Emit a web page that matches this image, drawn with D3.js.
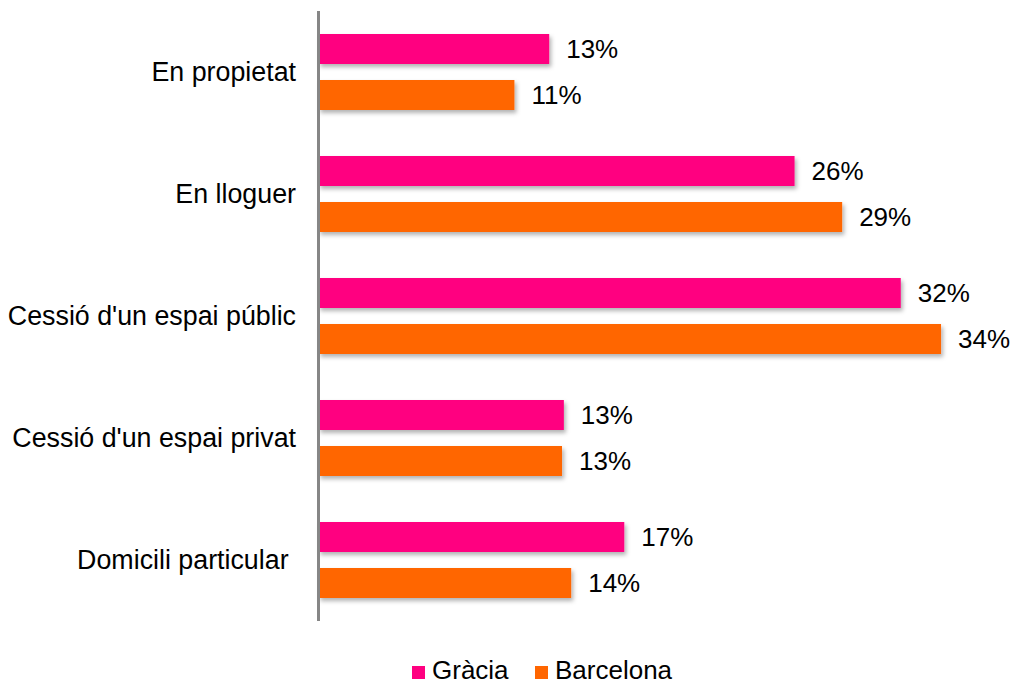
<!DOCTYPE html>
<html>
<head>
<meta charset="utf-8">
<script src="https://cdn.jsdelivr.net/npm/d3@7"></script>
<style>
  html, body { margin: 0; padding: 0; background: #fff; }
  svg { display: block; font-family: Arial, "Liberation Sans", sans-serif; }
</style>
</head>
<body>
<div id="chart"></div>
<script>
// data
const categories = [
  'En propietat',
  'En lloguer',
  "Cessió d'un espai públic",
  "Cessió d'un espai privat",
  'Domicili particular ',
];
const seriesNames = ['Gràcia', 'Barcelona'];
const graciaValues = [12.6, 26.0, 31.8, 13.4, 16.7];
const barcelonaValues = [10.7, 28.6, 34.0, 13.3, 13.8];
const colors = ['#ff0080', '#ff6600'];

const width = 1013;
const height = 684;

const rows = categories.map((c, i) => ({
  category: c,
  values: [
    { series: seriesNames[0], value: graciaValues[i] },
    { series: seriesNames[1], value: barcelonaValues[i] },
  ],
}));

const svg = d3.select('#chart')
  .append('svg')
  .attr('width', width)
  .attr('height', height);

// soft shadow under bars
svg.append('defs')
  .append('filter')
  .attr('id', 'bar-shadow')
  .attr('x', -0.05)
  .attr('y', -0.2)
  .attr('width', 1.1)
  .attr('height', 1.6)
  .append('feDropShadow')
  .attr('dx', 2)
  .attr('dy', 3)
  .attr('stdDeviation', 2)
  .attr('flood-color', '#000')
  .attr('flood-opacity', 0.3);

// scales
const x = d3.scaleLinear()
  .domain([0, 35])
  .range([318.5, 318.5 + 35 * 18.31]);

const y0 = d3.scaleBand()
  .domain(categories)
  .range([11, 621])
  .paddingInner(46 / 122)
  .paddingOuter(23 / 122);

const y1 = d3.scaleBand()
  .domain(seriesNames)
  .range([0, y0.bandwidth()])
  .paddingInner(16 / 46);

const color = d3.scaleOrdinal().domain(seriesNames).range(colors);

// category labels
svg.append('g')
  .selectAll('text')
  .data(categories)
  .join('text')
  .attr('x', 296)
  .attr('y', (d) => y0(d) + y0.bandwidth() / 2)
  .attr('dy', '0.35em')
  .attr('text-anchor', 'end')
  .attr('font-size', 26.8)
  .attr('fill', '#000')
  .style('white-space', 'pre')
  .text((d) => d);

// bars + labels
const groups = svg.append('g')
  .selectAll('g')
  .data(rows)
  .join('g')
  .attr('transform', (d) => `translate(0,${y0(d.category)})`);

groups.selectAll('rect')
  .data((d) => d.values)
  .join('rect')
  .attr('x', x(0))
  .attr('y', (d) => y1(d.series))
  .attr('width', (d) => x(d.value) - x(0))
  .attr('height', y1.bandwidth())
  .attr('fill', (d) => color(d.series))
  .attr('filter', 'url(#bar-shadow)');

groups.selectAll('text')
  .data((d) => d.values)
  .join('text')
  .attr('x', (d) => x(d.value) + 17)
  .attr('y', (d) => y1(d.series) + y1.bandwidth() / 2)
  .attr('dy', '0.35em')
  .attr('font-size', 26)
  .attr('fill', '#000')
  .text((d) => `${Math.round(d.value)}%`);

// vertical axis line
svg.append('line')
  .attr('x1', x(0))
  .attr('x2', x(0))
  .attr('y1', 11)
  .attr('y2', 621)
  .attr('stroke', '#868686')
  .attr('stroke-width', 3);

// legend
const legendX = [412, 535];
const legend = svg.append('g')
  .selectAll('g')
  .data(seriesNames)
  .join('g')
  .attr('transform', (d, i) => `translate(${legendX[i]},666)`);

legend.append('rect')
  .attr('width', 13)
  .attr('height', 13)
  .attr('fill', (d) => color(d));

legend.append('text')
  .attr('x', 20)
  .attr('y', 13)
  .attr('font-size', 26)
  .attr('fill', '#000')
  .text((d) => d);
</script>
</body>
</html>
